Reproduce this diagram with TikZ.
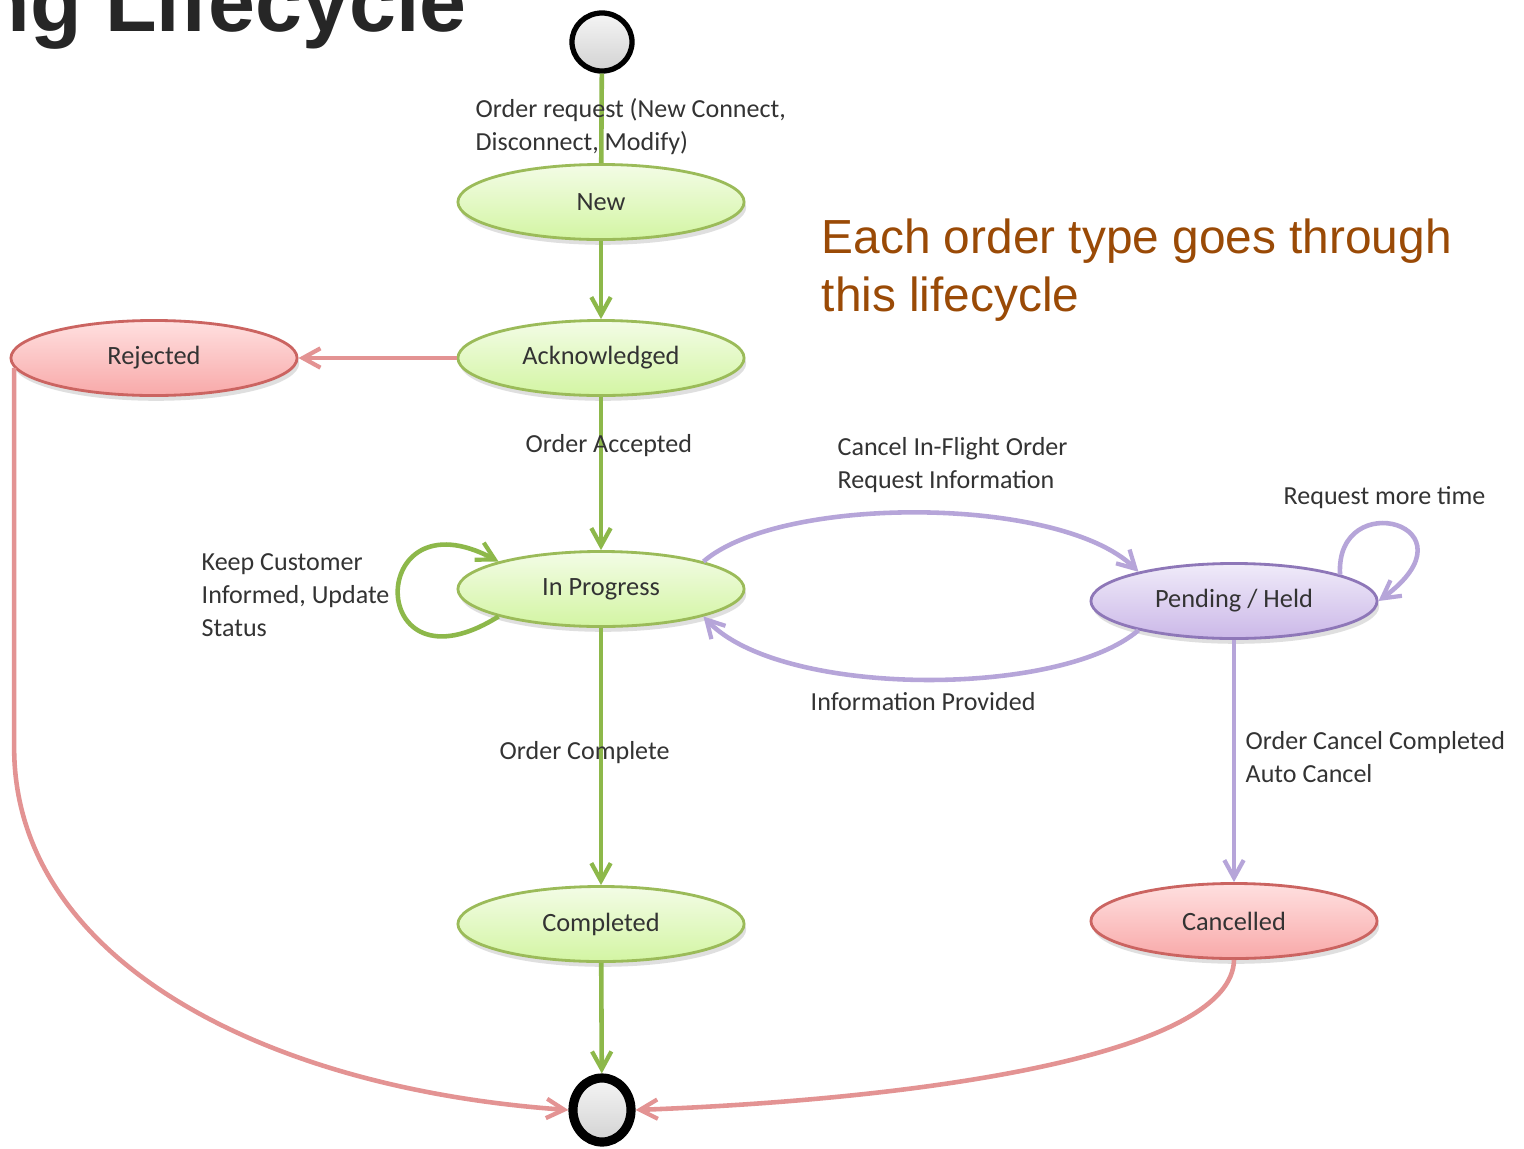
\documentclass[tikz,border=0pt]{standalone}
\usepackage{fontspec}
\setmainfont{Carlito}
\newfontfamily\arialfont{Liberation Sans}
\usetikzlibrary{arrows.meta,shapes.geometric,shadows}

\definecolor{grnline}{HTML}{8DB84A}
\definecolor{grnedge}{HTML}{9BBB59}
\definecolor{grntop}{HTML}{F3FCE6}
\definecolor{grnbot}{HTML}{D3F5A3}
\definecolor{redline}{HTML}{E39393}
\definecolor{rededge}{HTML}{CB6461}
\definecolor{redtop}{HTML}{FFE0E0}
\definecolor{redbot}{HTML}{F8A9A9}
\definecolor{purline}{HTML}{B6A5D9}
\definecolor{puredge}{HTML}{8E77B8}
\definecolor{purtop}{HTML}{F0EBF9}
\definecolor{purbot}{HTML}{CBB8E8}
\definecolor{labeltext}{HTML}{333333}
\definecolor{notebrown}{HTML}{9A4A06}
\definecolor{titlegray}{HTML}{262626}

\tikzset{
  state/.style={ellipse, minimum width=2.86cm, minimum height=0.75cm, inner sep=0pt,
    line width=0.8pt, text=labeltext, font=\fontsize{7.5}{8}\selectfont,
    drop shadow={shadow xshift=0.6pt, shadow yshift=-1.5pt, opacity=0.25}},
  okstate/.style={state, draw=grnedge, top color=grntop, bottom color=grnbot},
  badstate/.style={state, draw=rededge, top color=redtop, bottom color=redbot},
  holdstate/.style={state, draw=puredge, top color=purtop, bottom color=purbot},
  pseudo/.style={ellipse, draw=black, inner sep=0pt, top color=gray!8, bottom color=gray!35},
  tip/.style={-{Straight Barb[length=5pt,width=5.5pt,line width=1.2pt]}},
  gline/.style={draw=grnline, line width=1.3pt},
  rline/.style={draw=redline, line width=1.3pt},
  pline/.style={draw=purline, line width=1.3pt},
  lbl/.style={font=\fontsize{7.4}{9.4}\selectfont, text=labeltext, align=left,
    anchor=west, inner sep=0pt}
}

\begin{document}
\begin{tikzpicture}[x=0.01cm, y=-0.01cm]
  \clip (0,0) rectangle (1524,1148);
  \fill[white] (0,0) rectangle (1524,1148);

  % heading, running off the top edge
  \node[anchor=base west, inner sep=0pt, text=titlegray,
        font=\arialfont\bfseries\fontsize{24}{24}\selectfont] (title) at (-22,31) {ng Lifecycle};

  % side note
  \node[anchor=west, inner sep=0pt, text=notebrown, align=left,
        font=\arialfont\fontsize{13.6}{16.3}\selectfont] (note) at (821,270)
        {Each order type goes through\\this lifecycle};

  % states
  \node[pseudo, minimum width=0.6cm, minimum height=0.58cm, line width=1.5pt] (start) at (602,42) {};
  \node[okstate] (new) at (601,202) {New};
  \node[okstate] (ack) at (601,358) {Acknowledged};
  \node[badstate] (rej) at (154,358) {Rejected};
  \node[okstate] (ip) at (601,589) {In Progress};
  \node[holdstate] (pend) at (1234,601) {Pending / Held};
  \node[okstate] (done) at (601,924) {Completed};
  \node[badstate] (canc) at (1234,921) {Cancelled};
  \node[pseudo, minimum width=0.58cm, minimum height=0.64cm, line width=2.6pt] (endc) at (602,1110) {};

  % main flow
  \draw[gline] (start) -- (new);
  \draw[gline, tip] (new) -- (ack);
  \draw[gline, tip] (ack) -- (ip);
  \draw[gline, tip] (ip) -- (done);
  \draw[gline, tip] (done) -- (endc);
  \draw[gline, tip] (ip.195) .. controls (365,700) and (365,490) .. (ip.165);

  % rejection and cancellation
  \draw[rline, tip] (ack) -- (rej);
  \draw[rline, tip] (rej.184) -- ++(0,380) .. controls +(0,210) and (260,1088) .. (endc.west);
  \draw[rline, tip] (canc.south) .. controls (1232,1050) and (950,1098) .. (endc.east);

  % pending / held transitions
  \draw[pline, tip] (ip.15) .. controls (780,495) and (1060,495) .. (pend.163);
  \draw[pline, tip] (pend.197) .. controls (1060,698) and (780,698) .. (ip.345);
  \draw[pline, tip] (pend.14) .. controls (1335,485) and (1482,525) .. (pend.east);
  \draw[pline, tip] (pend) -- (canc);

  % transition labels
  \node[lbl] (l1) at (475,127) {Order request (New Connect,\\Disconnect, Modify)};
  \node[lbl] (l2) at (525,446) {Order Accepted};
  \node[lbl] (l3) at (201,595) {Keep Customer\\Informed, Update\\Status};
  \node[lbl] (l4) at (837,465) {Cancel In-Flight Order\\Request Information};
  \node[lbl] (l5) at (1283,498) {Request more time};
  \node[lbl] (l6) at (810,702) {Information Provided};
  \node[lbl] (l7) at (499,753) {Order Complete};
  \node[lbl] (l8) at (1245,757) {Order Cancel Completed\\Auto Cancel};
\end{tikzpicture}
\end{document}
